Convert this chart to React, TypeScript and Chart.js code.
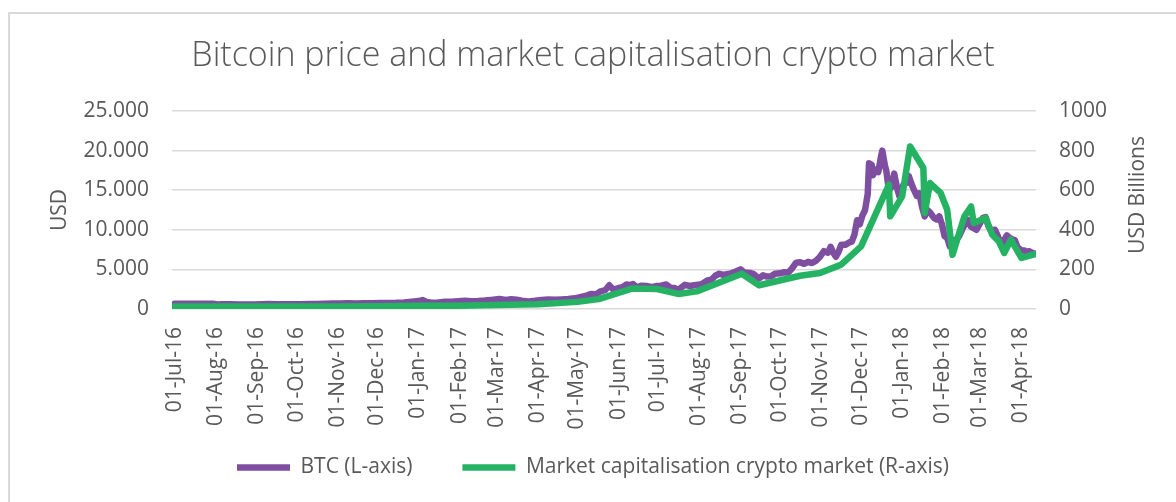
import React, { useEffect, useRef } from 'react';
import { Chart, registerables } from 'chart.js';

Chart.register(...registerables);

const chartTitle = 'Bitcoin price and market capitalisation crypto market';
const btcLabel = 'BTC (L-axis)';
const capLabel = 'Market capitalisation crypto market (R-axis)';
const leftAxisTitle = 'USD';
const rightAxisTitle = 'USD Billions';

const xMinDate = '2016-06-29';
const xMaxDate = '2018-04-12';

const xTickDates = [
  '2016-07-01', '2016-08-01', '2016-09-01', '2016-10-01', '2016-11-01', '2016-12-01',
  '2017-01-01', '2017-02-01', '2017-03-01', '2017-04-01', '2017-05-01', '2017-06-01',
  '2017-07-01', '2017-08-01', '2017-09-01', '2017-10-01', '2017-11-01', '2017-12-01',
  '2018-01-01', '2018-02-01', '2018-03-01', '2018-04-01',
];
const xTickLabels = [
  '01-Jul-16', '01-Aug-16', '01-Sep-16', '01-Oct-16', '01-Nov-16', '01-Dec-16',
  '01-Jan-17', '01-Feb-17', '01-Mar-17', '01-Apr-17', '01-May-17', '01-Jun-17',
  '01-Jul-17', '01-Aug-17', '01-Sep-17', '01-Oct-17', '01-Nov-17', '01-Dec-17',
  '01-Jan-18', '01-Feb-18', '01-Mar-18', '01-Apr-18',
];

const btcDates = [
  '2016-07-01', '2016-07-05', '2016-07-10', '2016-07-15', '2016-07-20', '2016-07-25', '2016-07-30',
  '2016-08-02', '2016-08-06', '2016-08-12', '2016-08-18', '2016-08-24', '2016-08-30',
  '2016-09-05', '2016-09-10', '2016-09-16', '2016-09-22', '2016-09-28',
  '2016-10-04', '2016-10-10', '2016-10-16', '2016-10-22', '2016-10-28',
  '2016-11-03', '2016-11-09', '2016-11-15', '2016-11-21', '2016-11-27',
  '2016-12-03', '2016-12-09', '2016-12-15', '2016-12-21', '2016-12-27',
  '2017-01-01', '2017-01-04', '2017-01-07', '2017-01-11', '2017-01-16', '2017-01-21', '2017-01-26', '2017-01-31',
  '2017-02-05', '2017-02-10', '2017-02-15', '2017-02-20', '2017-02-25',
  '2017-03-03', '2017-03-08', '2017-03-12', '2017-03-16', '2017-03-20', '2017-03-25', '2017-03-30',
  '2017-04-04', '2017-04-09', '2017-04-14', '2017-04-19', '2017-04-24', '2017-04-29',
  '2017-05-03', '2017-05-07', '2017-05-11', '2017-05-15', '2017-05-18', '2017-05-22', '2017-05-25', '2017-05-28',
  '2017-06-01', '2017-06-04', '2017-06-07', '2017-06-10', '2017-06-12', '2017-06-15', '2017-06-18', '2017-06-22', '2017-06-26', '2017-06-30',
  '2017-07-03', '2017-07-07', '2017-07-10', '2017-07-13', '2017-07-16', '2017-07-19', '2017-07-21', '2017-07-25', '2017-07-28', '2017-07-31',
  '2017-08-03', '2017-08-07', '2017-08-10', '2017-08-13', '2017-08-16', '2017-08-19', '2017-08-22', '2017-08-25', '2017-08-28',
  '2017-09-01', '2017-09-04', '2017-09-08', '2017-09-11', '2017-09-13', '2017-09-15', '2017-09-18', '2017-09-21', '2017-09-24', '2017-09-27',
  '2017-10-01', '2017-10-04', '2017-10-07', '2017-10-10', '2017-10-13', '2017-10-16', '2017-10-19', '2017-10-22', '2017-10-25', '2017-10-28', '2017-10-31',
  '2017-11-03', '2017-11-06', '2017-11-08', '2017-11-10', '2017-11-12', '2017-11-14', '2017-11-16', '2017-11-19', '2017-11-22', '2017-11-24', '2017-11-26', '2017-11-28', '2017-11-30',
  '2017-12-02', '2017-12-04', '2017-12-06', '2017-12-07', '2017-12-09', '2017-12-10', '2017-12-12', '2017-12-14', '2017-12-16', '2017-12-17', '2017-12-19', '2017-12-20', '2017-12-22', '2017-12-24', '2017-12-26', '2017-12-28', '2017-12-30',
  '2018-01-02', '2018-01-04', '2018-01-06', '2018-01-08', '2018-01-10', '2018-01-12', '2018-01-14', '2018-01-16', '2018-01-18', '2018-01-20', '2018-01-22', '2018-01-25', '2018-01-27', '2018-01-29', '2018-01-31',
  '2018-02-02', '2018-02-04', '2018-02-06', '2018-02-08', '2018-02-11', '2018-02-13', '2018-02-16', '2018-02-20', '2018-02-22', '2018-02-24', '2018-02-26',
  '2018-03-01', '2018-03-03', '2018-03-05', '2018-03-07', '2018-03-09', '2018-03-12', '2018-03-14', '2018-03-17', '2018-03-19', '2018-03-21', '2018-03-23', '2018-03-25', '2018-03-27', '2018-03-29',
  '2018-04-01', '2018-04-03', '2018-04-05', '2018-04-07', '2018-04-09', '2018-04-11',
];
const btcValues = [
  675, 670, 650, 665, 670, 655, 655,
  560, 590, 590, 575, 580, 575,
  610, 625, 610, 595, 605,
  610, 620, 640, 655, 690,
  690, 720, 710, 740, 735,
  770, 770, 780, 830, 930,
  1000, 1130, 900, 790, 830, 920, 915, 965,
  1030, 990, 1010, 1060, 1150,
  1260, 1150, 1230, 1170, 1040, 960, 1040,
  1140, 1190, 1180, 1210, 1250, 1350,
  1500, 1650, 1900, 1850, 2200, 2400, 3000, 2450,
  2650, 2750, 3100, 3000, 3150, 2700, 2950, 2900, 2750, 2900,
  2950, 3100, 2700, 2650, 2400, 2800, 3050, 2900, 3000, 3050,
  3150, 3600, 3700, 4200, 4450, 4300, 4400, 4500, 4700,
  5000, 4600, 4550, 4400, 4100, 3850, 4250, 4100, 4100, 4450,
  4500, 4650, 4600, 5150, 5850, 5900, 5700, 5950, 5800, 6100, 6600,
  7300, 7100, 7850, 7100, 6600, 7200, 8100, 8100, 8400, 8500, 9400, 11200, 10700,
  11800, 12500, 14500, 18400, 18200, 16900, 17600, 17300, 19200, 20000, 18100, 17500, 15000, 15400, 17100, 15400, 14200,
  15700, 15900, 16800, 15800, 15000, 14300, 14600, 12900, 11700, 12500, 12200, 11500, 11300, 11700, 10700,
  9200, 9000, 7900, 8600, 8800, 9200, 10300, 11200, 10400, 10200, 10000,
  10900, 11500, 11600, 10500, 9900, 10000, 9300, 7900, 8700, 9300, 9000, 8800, 8700, 7800,
  7400, 7400, 7200, 7300, 7100, 7000,
];

const capDates = [
  '2016-07-01', '2016-08-01', '2016-09-01', '2016-10-01', '2016-11-01', '2016-12-01',
  '2017-01-01', '2017-02-01', '2017-03-01', '2017-04-01', '2017-05-01', '2017-05-17',
  '2017-06-11', '2017-06-30', '2017-07-16', '2017-07-30', '2017-09-02', '2017-09-15',
  '2017-10-16', '2017-10-31', '2017-11-16', '2017-12-01', '2017-12-22', '2017-12-23',
  '2018-01-01', '2018-01-07', '2018-01-17', '2018-01-18', '2018-01-22', '2018-01-30',
  '2018-02-04', '2018-02-08', '2018-02-17', '2018-02-22', '2018-02-24', '2018-03-05',
  '2018-03-10', '2018-03-15', '2018-03-19', '2018-03-24', '2018-04-01', '2018-04-12',
];
const capValues = [
  13, 12, 12, 12.5, 13, 14,
  17, 17, 20, 24, 36, 50,
  103, 101, 76, 89, 178, 120,
  168, 182, 224, 316, 628, 468,
  569, 821, 712, 485, 636, 586,
  501, 274, 468, 518, 434, 460,
  375, 341, 283, 350, 258, 279,
];

const ORIGIN = Date.UTC(2016, 6, 1);
const dayOf = (s: string) => {
  const [y, m, d] = s.split('-').map(Number);
  return (Date.UTC(y, m - 1, d) - ORIGIN) / 86400000;
};

const FONT = '"Open Sans", sans-serif';
const TEXT = '#595959';
const GRID = '#d9d9d9';
const PURPLE = '#7E4FA1';
const GREEN = '#25B363';
const LINE_W = 6.5;

const fmtThousands = (v: number) => String(v).replace(/\B(?=(\d{3})+(?!\d))/g, '.');

const axisTitlesPlugin = {
  id: 'axisTitles',
  afterLayout(chart: any) {
    const x = chart.scales.x;
    if (x) x.bottom = x.top + 140;
  },
  afterDraw(chart: any) {
    const { ctx, chartArea } = chart;
    const midY = (chartArea.top + chartArea.bottom) / 2;
    ctx.save();
    ctx.fillStyle = TEXT;
    ctx.font = `21px ${FONT}`;
    ctx.textAlign = 'center';
    ctx.textBaseline = 'middle';
    ctx.translate(chartArea.left - 112, midY);
    ctx.rotate(-Math.PI / 2);
    ctx.fillText(leftAxisTitle, 0, 0);
    ctx.restore();
    ctx.save();
    ctx.fillStyle = TEXT;
    ctx.font = `21px ${FONT}`;
    ctx.textAlign = 'center';
    ctx.textBaseline = 'middle';
    ctx.translate(chartArea.right + 102, midY - 15);
    ctx.rotate(-Math.PI / 2);
    ctx.fillText(rightAxisTitle, 0, 0);
    ctx.restore();
  },
};

export default function App() {
  const ref = useRef<HTMLCanvasElement>(null);

  useEffect(() => {
    if (!ref.current) return;
    const tickDays = xTickDates.map(dayOf);
    const chart = new Chart(ref.current, {
      type: 'line',
      data: {
        datasets: [
          {
            label: btcLabel,
            data: btcDates.map((d, i) => ({ x: dayOf(d), y: btcValues[i] })),
            borderColor: PURPLE,
            backgroundColor: PURPLE,
            borderWidth: LINE_W,
            borderCapStyle: 'round',
            borderJoinStyle: 'round',
            pointRadius: 0,
            tension: 0,
            yAxisID: 'y',
            order: 1,
          },
          {
            label: capLabel,
            data: capDates.map((d, i) => ({ x: dayOf(d), y: capValues[i] })),
            borderColor: GREEN,
            backgroundColor: GREEN,
            borderWidth: LINE_W,
            borderCapStyle: 'round',
            borderJoinStyle: 'round',
            pointRadius: 0,
            tension: 0,
            yAxisID: 'y1',
            order: 0,
          },
        ],
      },
      options: {
        responsive: false,
        animation: false,
        layout: { padding: { left: 0, right: 0, top: 0, bottom: 14 } },
        plugins: {
          title: {
            display: true,
            text: chartTitle,
            color: TEXT,
            font: { family: FONT, size: 34, weight: '300' },
            padding: { top: 21.5, bottom: 34.7 },
          },
          legend: {
            position: 'bottom',
            labels: {
              color: TEXT,
              font: { family: FONT, size: 21 },
              usePointStyle: true,
              pointStyle: 'line',
              pointStyleWidth: 53,
              padding: 50,
              sort: (a: any, b: any) => a.datasetIndex - b.datasetIndex,
            },
          },
          tooltip: { enabled: false },
        },
        scales: {
          x: {
            type: 'linear',
            min: dayOf(xMinDate),
            max: dayOf(xMaxDate),
            grid: { display: false, drawTicks: false },
            border: { display: false },
            afterBuildTicks: (s: any) => {
              s.ticks = tickDays.map((v) => ({ value: v }));
            },
            afterFit: (s: any) => {
              s.height = 98;
            },
            ticks: {
              autoSkip: false,
              minRotation: 90,
              maxRotation: 90,
              padding: 18,
              color: TEXT,
              font: { family: FONT, size: 21 },
              callback: (_v: any, i: number) => xTickLabels[i],
            },
          },
          y: {
            position: 'left',
            min: 0,
            max: 25000,
            grid: { color: GRID, lineWidth: 1.5, drawTicks: false },
            border: { display: false },
            afterFit: (s: any) => {
              s.width = 162;
            },
            ticks: {
              stepSize: 5000,
              padding: 23,
              color: TEXT,
              font: { family: FONT, size: 21 },
              callback: (v: any) => fmtThousands(Number(v)),
            },
          },
          y1: {
            position: 'right',
            min: 0,
            max: 1000,
            grid: { display: false, drawTicks: false },
            border: { display: false },
            afterFit: (s: any) => {
              s.width = 140;
            },
            ticks: {
              stepSize: 200,
              padding: 23,
              color: TEXT,
              font: { family: FONT, size: 21 },
              callback: (v: any) => String(v),
            },
          },
        },
      },
      plugins: [axisTitlesPlugin],
    } as any);
    return () => chart.destroy();
  }, []);

  return (
    <div style={{ position: 'fixed', left: 0, top: 0, width: 1176, height: 502, overflow: 'hidden', background: '#fff' }}>
      <div
        style={{
          position: 'absolute',
          left: 8,
          top: 12,
          width: 1168,
          height: 490,
          borderLeft: `2px solid ${GRID}`,
          borderTop: `2px solid ${GRID}`,
          boxSizing: 'border-box',
        }}
      />
      <canvas
        ref={ref}
        width={1166}
        height={488}
        style={{ position: 'absolute', left: 10, top: 14, width: 1166, height: 488 }}
      />
    </div>
  );
}
